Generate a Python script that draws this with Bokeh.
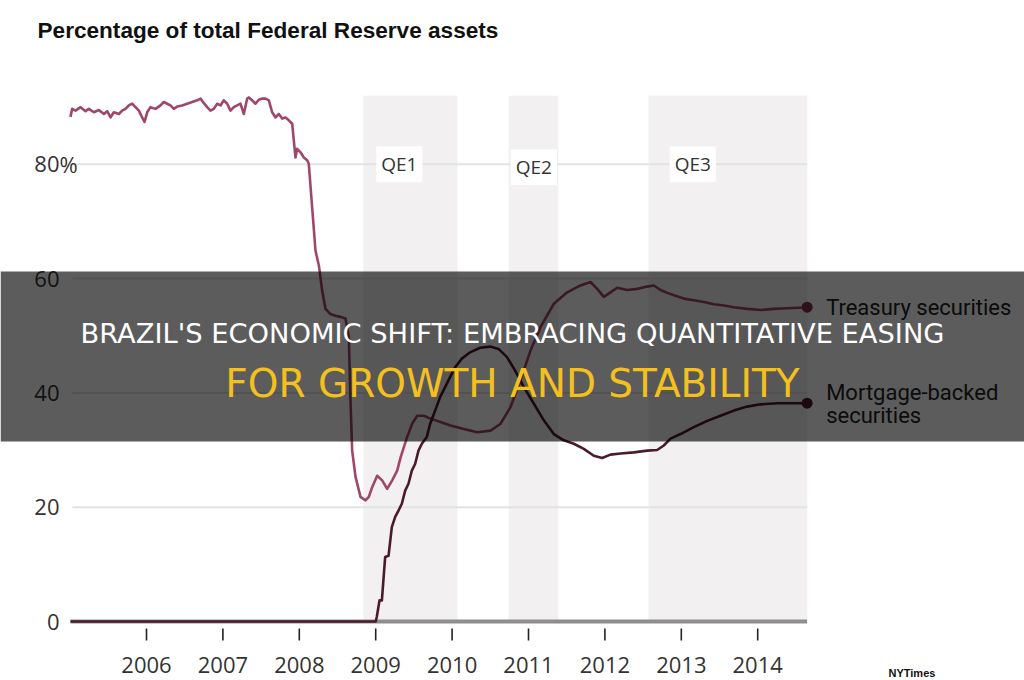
from bokeh.plotting import figure
from bokeh.models import Range1d
from bokeh.core.properties import value
from bokeh.embed import file_html
from bokeh.resources import INLINE

# ---------------- data ----------------
title_text = "Percentage of total Federal Reserve assets"
years = [2006, 2007, 2008, 2009, 2010, 2011, 2012, 2013, 2014]
y_ticks = [0, 20, 40, 60, 80]
y_tick_labels = ["0", "20", "40", "60", "80"]

qe_names = ["QE1", "QE2", "QE3"]
qe_start = [2008.84, 2010.74, 2012.57]
qe_end = [2010.07, 2011.39, 2014.65]
qe_label_x = [2009.31, 2011.07, 2013.15]

treasury_t = [2005.005, 2005.027, 2005.071, 2005.136, 2005.202, 2005.245, 2005.311, 2005.376,
              2005.442, 2005.485, 2005.529, 2005.572, 2005.638, 2005.681, 2005.725, 2005.769,
              2005.812, 2005.856, 2005.900, 2005.943, 2005.974, 2006.009, 2006.052, 2006.118,
              2006.183, 2006.227, 2006.271, 2006.314, 2006.358, 2006.401, 2006.467, 2006.532,
              2006.598, 2006.663, 2006.707, 2006.750, 2006.794, 2006.838, 2006.881, 2006.925,
              2006.969, 2007.012, 2007.056, 2007.099, 2007.143, 2007.187, 2007.230, 2007.274,
              2007.318, 2007.339, 2007.383, 2007.427, 2007.470, 2007.514, 2007.558, 2007.601,
              2007.645, 2007.689, 2007.732, 2007.776, 2007.819, 2007.863, 2007.907, 2007.928,
              2007.950, 2007.972, 2008.016, 2008.059, 2008.103, 2008.124, 2008.212, 2008.256,
              2008.299, 2008.343, 2008.408, 2008.474, 2008.539, 2008.605, 2008.648, 2008.670,
              2008.692, 2008.736, 2008.801, 2008.867, 2008.910, 2008.954, 2009.019, 2009.085,
              2009.150, 2009.216, 2009.281, 2009.328, 2009.412, 2009.477, 2009.543, 2009.630,
              2009.717, 2009.848, 2009.979, 2010.154, 2010.328, 2010.503, 2010.634, 2010.764,
              2010.895, 2011.026, 2011.157, 2011.331, 2011.506, 2011.681, 2011.812, 2011.899,
              2011.986, 2012.073, 2012.161, 2012.292, 2012.423, 2012.554, 2012.641, 2012.728,
              2012.815, 2012.924, 2013.033, 2013.164, 2013.295, 2013.426, 2013.557, 2013.688,
              2013.862, 2014.037, 2014.211, 2014.386, 2014.538, 2014.647]
treasury_v = [88.3, 89.7, 89.4, 90.0, 89.3, 89.7, 89.1, 89.5,
              88.8, 89.3, 88.2, 89.1, 88.8, 89.4, 89.7, 90.3,
              90.6, 90.0, 89.4, 88.2, 87.4, 89.1, 90.0, 89.7,
              90.3, 90.9, 90.6, 90.3, 89.7, 90.1, 90.3, 90.6,
              90.9, 91.2, 91.5, 90.7, 90.0, 89.4, 89.7, 90.6,
              90.3, 91.2, 90.6, 89.4, 90.0, 90.3, 90.6, 88.8,
              91.5, 91.7, 91.2, 90.6, 91.3, 91.5, 91.5, 91.2,
              89.1, 88.2, 88.8, 88.0, 88.2, 87.7, 87.1, 84.2,
              81.2, 82.7, 82.1, 81.2, 80.7, 80.1, 64.9, 62.3,
              57.9, 54.7, 53.8, 53.5, 53.3, 53.0, 49.8, 38.7,
              29.9, 25.3, 21.8, 21.2, 21.8, 23.5, 25.5, 24.7,
              23.2, 24.7, 26.4, 28.8, 32.3, 34.6, 36.0, 36.0,
              35.5, 34.9, 34.3, 33.7, 33.1, 33.4, 34.6, 37.5,
              42.2, 47.4, 51.5, 55.6, 57.6, 58.8, 59.4, 58.2,
              56.8, 57.6, 58.4, 58.0, 58.2, 58.6, 58.8, 58.0,
              57.5, 57.0, 56.5, 56.2, 55.9, 55.5, 55.3, 55.0,
              54.7, 54.5, 54.7, 54.8, 54.9, 55.0]

mbs_t = [2005.005, 2009.000, 2009.014, 2009.050, 2009.081, 2009.124, 2009.168, 2009.211,
         2009.255, 2009.298, 2009.342, 2009.386, 2009.429, 2009.473, 2009.517, 2009.560,
         2009.604, 2009.669, 2009.713, 2009.778, 2009.844, 2009.909, 2009.975, 2010.040,
         2010.127, 2010.236, 2010.367, 2010.498, 2010.607, 2010.716, 2010.825, 2010.939,
         2011.070, 2011.201, 2011.331, 2011.462, 2011.593, 2011.724, 2011.855, 2011.964,
         2012.073, 2012.205, 2012.379, 2012.554, 2012.684, 2012.771, 2012.859, 2012.990,
         2013.164, 2013.339, 2013.513, 2013.688, 2013.862, 2014.037, 2014.255, 2014.473,
         2014.647]
mbs_v = [0.0, 0.0, 0.8, 3.7, 3.7, 11.3, 11.5, 16.5,
         18.3, 19.4, 20.6, 22.9, 24.1, 26.4, 27.6, 29.9,
         31.1, 32.3, 34.6, 36.9, 39.3, 41.0, 42.8, 44.5,
         46.0, 47.1, 47.9, 48.1, 47.7, 46.3, 43.9, 41.0,
         38.1, 35.2, 32.8, 31.7, 31.1, 30.2, 29.0, 28.6,
         29.2, 29.4, 29.6, 29.9, 30.0, 30.8, 32.0, 32.8,
         34.0, 35.1, 36.0, 36.9, 37.6, 38.0, 38.2, 38.2,
         38.2]

banner_line1 = "BRAZIL'S ECONOMIC SHIFT: EMBRACING QUANTITATIVE EASING"
banner_line2 = "FOR GROWTH AND STABILITY"
source_text = "NYTimes"

# ---------------- layout helpers (pixel -> data) ----------------
W, H = 1024, 680
PX_YEAR = 76.4
PX_PCT = 5.715
X_LEFT = 2006 - 146 / PX_YEAR
Y_TOP = 621 / PX_PCT


def px_x(px):
    return X_LEFT + px / PX_YEAR


def px_y(py):
    return Y_TOP - py / PX_PCT


END = treasury_t[-1]
START = treasury_t[0]

p = figure(width=W, height=H,
           x_range=Range1d(px_x(0), px_x(W)), y_range=Range1d(px_y(H), px_y(0)),
           output_backend="svg", toolbar_location=None, min_border=0,
           x_axis_location=None, y_axis_location=None,
           outline_line_color=None, background_fill_color="white",
           border_fill_color="white")
p.xgrid.visible = False
p.ygrid.visible = False

# QE shading
p.quad(left=qe_start, right=qe_end, bottom=0, top=92, fill_color="#f2f0f0", line_color=None)

# gridlines
grid_vals = [v for v in y_ticks if v > 0]
p.segment(x0=[px_x(72)] * len(grid_vals), x1=[END] * len(grid_vals), y0=grid_vals, y1=grid_vals,
          line_color="#e3e3e3", line_width=2)

# baseline
p.segment(x0=[START], x1=[END], y0=[0], y1=[0], line_color="#8e8e8e", line_width=4)

# x ticks and labels
p.segment(x0=years, x1=years, y0=[px_y(628)] * len(years), y1=[px_y(640)] * len(years),
          line_color="#222222", line_width=1.6)
p.text(x=years, y=[px_y(664)] * len(years), text=[str(y) for y in years],
       text_align="center", text_baseline="middle", text_font=value("Open Sans"),
       text_font_size="22px", text_color="#333333")

# QE labels
p.text(x=qe_label_x, y=[80, 79.5, 80], text=qe_names, text_align="center",
       text_baseline="middle", text_font=value("Open Sans"), text_font_size="19px",
       text_color="#333333", background_fill_color="white", padding=5)

# series lines
p.line(treasury_t, treasury_v, line_color="#a0466b", line_width=2.6, line_join="round")
p.line(mbs_t, mbs_v, line_color="#4a1b2e", line_width=2.6, line_join="round")
p.scatter(x=[END, END], y=[treasury_v[-1], mbs_v[-1]], size=11,
          fill_color=["#7d2f4c", "#4a1b2e"], line_color=None)

# series labels
p.text(x=[END], y=[treasury_v[-1]], text=["Treasury securities"], x_offset=19,
       text_align="left", text_baseline="middle", text_font=value("Roboto"),
       text_font_size="22px", text_color="#222222")
p.text(x=[END], y=[mbs_v[-1]], text=["Mortgage-backed"], x_offset=19, y_offset=-11,
       text_align="left", text_baseline="middle", text_font=value("Roboto"),
       text_font_size="22px", text_color="#222222")
p.text(x=[END], y=[mbs_v[-1]], text=["securities"], x_offset=19, y_offset=12,
       text_align="left", text_baseline="middle", text_font=value("Roboto"),
       text_font_size="22px", text_color="#222222")

# y labels
p.text(x=[px_x(59)] * len(y_ticks), y=y_ticks, text=y_tick_labels, text_align="right",
       text_baseline="middle", text_font=value("Open Sans"), text_font_size="22px",
       text_color="#333333")
p.text(x=[px_x(59)], y=[y_ticks[-1]], text=["%"], text_align="left",
       text_baseline="middle", text_font=value("Open Sans"), text_font_size="22px",
       text_color="#333333")

# title
p.text(x=[px_x(37)], y=[px_y(30)], text=[title_text], text_align="left",
       text_baseline="middle", text_font=value("Liberation Sans"), text_font_style="bold",
       text_font_size="22.6px", text_color="#111111")

# source credit (bottom right)
p.text(x=[px_x(888)], y=[px_y(666)], text=[source_text], text_align="left",
       text_baseline="top", text_font=value("Liberation Sans"), text_font_style="bold",
       text_font_size="11px", text_color="#111111")

# banner overlay
p.quad(left=[px_x(0)], right=[px_x(W)], top=[px_y(271)], bottom=[px_y(441)],
       fill_color="black", fill_alpha=0.64, line_color=None)
p.text(x=[px_x(512)], y=[px_y(333)], text=[banner_line1], text_align="center",
       text_baseline="middle", text_font=value("DejaVu Sans"), text_font_size="27.3px",
       text_color="white")
p.text(x=[px_x(512)], y=[px_y(383)], text=[banner_line2], text_align="center",
       text_baseline="middle", text_font=value("DejaVu Sans"), text_font_size="39px",
       text_color="#f4c01e")

open("out.html", "w").write(file_html(p, INLINE))
